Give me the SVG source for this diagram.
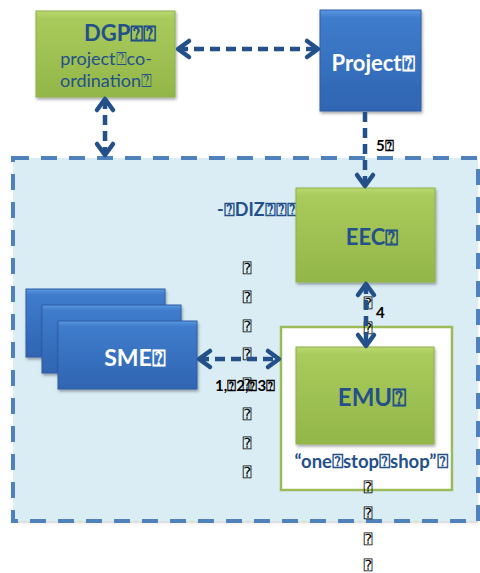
<svg xmlns="http://www.w3.org/2000/svg" width="480" height="573" viewBox="0 0 480 573">
  <defs>
    <linearGradient id="gGreen" x1="0" y1="0" x2="0" y2="1">
      <stop offset="0" stop-color="#bad872"/>
      <stop offset="0.08" stop-color="#a9cb5c"/>
      <stop offset="1" stop-color="#93b649"/>
    </linearGradient>
    <linearGradient id="gBlue" x1="0" y1="0" x2="0" y2="1">
      <stop offset="0" stop-color="#5b97e0"/>
      <stop offset="0.08" stop-color="#3f7ccc"/>
      <stop offset="1" stop-color="#2f65b2"/>
    </linearGradient>
    <filter id="shadow" x="-10%" y="-10%" width="130%" height="130%">
      <feDropShadow dx="1" dy="2" stdDeviation="1.6" flood-color="#000" flood-opacity="0.35"/>
    </filter>
    <marker id="chev" markerUnits="userSpaceOnUse" orient="auto-start-reverse" refX="0" refY="0" markerWidth="30" markerHeight="30" viewBox="-15 -15 30 30" overflow="visible">
      <path d="M-11,-8 L0,0 L-11,8" fill="none" stroke="#24508a" stroke-width="4.5" stroke-linecap="round" stroke-linejoin="round"/>
    </marker>
  </defs>
  <style>
    .green { fill: url(#gGreen); stroke: #8eb04a; stroke-width: 1; filter: url(#shadow); }
    .blue { fill: url(#gBlue); stroke: #2d5fa6; stroke-width: 1; filter: url(#shadow); }
    .title { font-family: Lato, "Liberation Sans", sans-serif; font-weight: bold; fill: #24508a; }
    .plain { font-family: Lato, "Liberation Sans", sans-serif; font-weight: normal; fill: #24508a; font-size: 18px; text-anchor: middle; }
    .white { font-family: Lato, "Liberation Sans", sans-serif; font-weight: bold; fill: #ffffff; }
    .num { font-family: Lato, "Liberation Sans", sans-serif; font-weight: bold; fill: #000000; font-size: 15px; }
    .tofu { font-family: "DejaVu Sans Mono", "DejaVu Sans", monospace; fill: #000000; font-size: 14px; text-anchor: middle; }
    .conn { fill: none; stroke: #24508a; stroke-width: 4.5; stroke-dasharray: 10 6; marker-start: url(#chev); marker-end: url(#chev); }
    .conn1 { fill: none; stroke: #24508a; stroke-width: 4.5; stroke-dasharray: 10 6; marker-end: url(#chev); }
  </style>

  <!-- shared area -->
  <g id="area">
    <rect x="15" y="161" width="463" height="362" fill="#000" opacity="0.12" filter="url(#shadow)"/>
    <rect x="13" y="158" width="465" height="363" fill="#dbedf4" stroke="#4f81bd" stroke-width="4" stroke-dasharray="16 12"/>
    <text class="title" x="217" y="216" font-size="18">-⍰DIZ⍰⍰⍰</text>
  </g>

  <!-- vertical character column left of the EMU -->
  <g id="column-left">
    <text class="tofu" x="247" y="273">⍰</text>
    <text class="tofu" x="247" y="302">⍰</text>
    <text class="tofu" x="247" y="331">⍰</text>
    <text class="tofu" x="247" y="359">⍰</text>
    <text class="tofu" x="247" y="389">⍰</text>
    <text class="tofu" x="247" y="419">⍰</text>
    <text class="tofu" x="247" y="448">⍰</text>
    <text class="tofu" x="247" y="477">⍰</text>
  </g>

  <g id="dgp">
    <rect class="green" x="36" y="11" width="139" height="86"/>
    <text class="title" x="84" y="41" font-size="22">DGP⍰⍰</text>
    <text class="plain" x="106" y="65">project⍰co-</text>
    <text class="plain" x="106" y="87">ordination⍰</text>
  </g>

  <g id="project">
    <rect class="blue" x="320" y="10" width="101" height="101"/>
    <text class="white" x="373" y="71" font-size="22" text-anchor="middle">Project⍰</text>
  </g>

  <g id="eec">
    <rect class="green" x="296" y="188" width="139" height="94"/>
    <text class="title" x="372" y="245" font-size="22" text-anchor="middle">EEC⍰</text>
  </g>

  <g id="sme">
    <rect class="blue" x="26" y="289" width="139" height="68"/>
    <rect class="blue" x="42" y="305" width="139" height="68"/>
    <rect class="blue" x="58" y="321" width="139" height="68"/>
    <text class="white" x="135" y="366" font-size="23" text-anchor="middle">SME⍰</text>
  </g>

  <g id="emu">
    <rect x="281" y="327" width="171" height="163" fill="#ffffff" stroke="#9bbb59" stroke-width="2.5"/>
    <rect class="green" x="296" y="347" width="138" height="97"/>
    <text class="title" x="372" y="406" font-size="24" text-anchor="middle">EMU⍰</text>
    <text class="title" x="371" y="468" font-size="18.5" text-anchor="middle">“one⍰stop⍰shop”⍰</text>
  </g>

  <!-- vertical character column below the EEC -->
  <g id="column-right">
    <text class="tofu" x="368" y="308">⍰</text>
    <text class="tofu" x="368" y="333">⍰</text>
    <text class="tofu" x="368" y="492">⍰</text>
    <text class="tofu" x="368" y="518">⍰</text>
    <text class="tofu" x="368" y="544">⍰</text>
    <text class="tofu" x="368" y="570">⍰</text>
  </g>

  <g id="connectors">
    <line class="conn" x1="178" y1="49" x2="318" y2="49"/>
    <line class="conn" x1="105" y1="99" x2="105" y2="155"/>
    <line class="conn1" x1="365" y1="112" x2="365" y2="186"/>
    <line class="conn" x1="366" y1="284" x2="366" y2="346"/>
    <line class="conn" x1="199" y1="359" x2="279" y2="359"/>
  </g>

  <g id="labels">
    <text class="num" x="376" y="151">5⍰</text>
    <text class="num" x="376" y="318">4</text>
    <text class="num" x="215" y="391">1,⍰2,⍰3⍰</text>
  </g>
</svg>
